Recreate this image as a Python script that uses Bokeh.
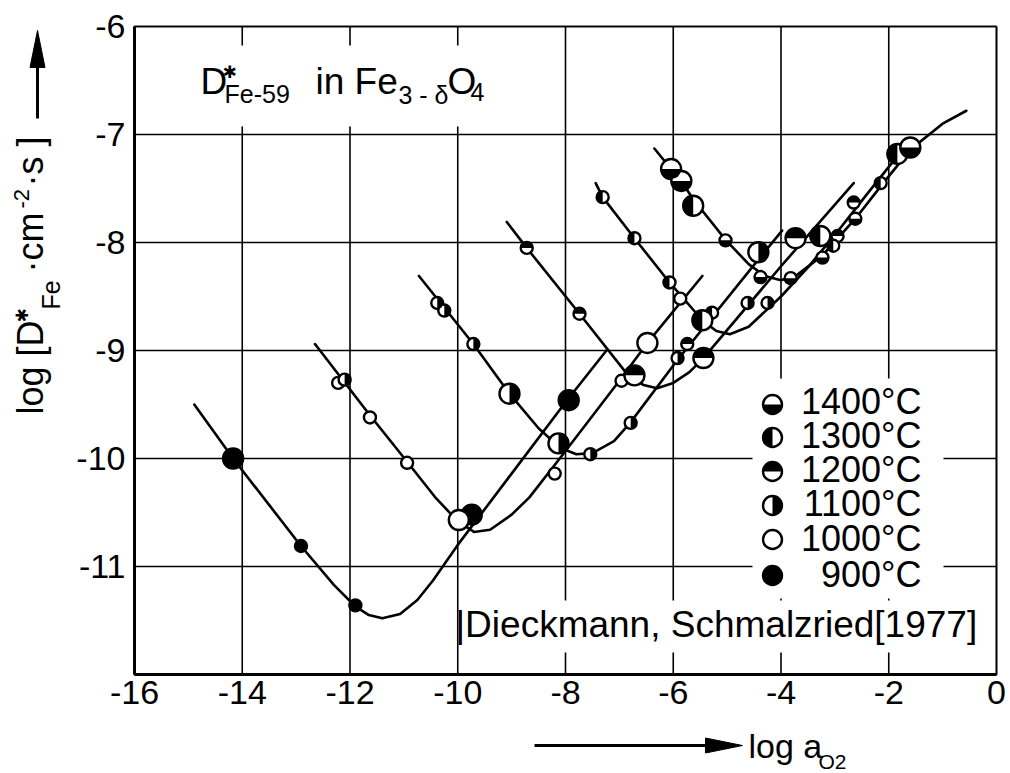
import math
from bokeh.plotting import figure
from bokeh.models import Range1d, FixedTicker, Label, BoxAnnotation
from bokeh.embed import file_html
from bokeh.resources import INLINE

# ---------------- data ----------------
x_ticks = [-16, -14, -12, -10, -8, -6, -4, -2, 0]
y_ticks = [-12, -11, -10, -9, -8, -7, -6]
x_tick_labels = ["-16", "-14", "-12", "-10", "-8", "-6", "-4", "-2", "0"]
y_tick_labels = ["", "-11", "-10", "-9", "-8", "-7", "-6"]

temperatures = ["1400°C", "1300°C", "1200°C", "1100°C", "1000°C", "900°C"]

# drawn curves
c900_x = [-14.89, -14.17, -12.91, -12.3, -11.9, -11.65, -11.4, -11.07, -10.75, -10.46, -10.0, -9.0, -8.0, -7.24]
c900_y = [-9.5, -10.0, -10.81, -11.17, -11.37, -11.45, -11.48, -11.44, -11.31, -11.13, -10.8, -10.14, -9.48, -9.0]
c1000_x = [-12.65, -11.63, -10.94, -10.4, -10.0, -9.7, -9.4, -9.0, -8.67, -8.06, -7.0, -6.48, -5.46]
c1000_y = [-8.94, -9.6, -10.03, -10.37, -10.58, -10.68, -10.66, -10.52, -10.36, -9.97, -9.28, -8.93, -8.31]
c1100_x = [-10.72, -9.71, -9.04, -8.5, -8.1, -7.8, -7.5, -7.1, -6.8, -5.94, -4.44, -3.98]
c1100_y = [-8.31, -8.94, -9.40, -9.72, -9.9, -9.96, -9.95, -9.84, -9.67, -9.1, -8.17, -7.89]
c1200_x = [-9.09, -8.72, -7.74, -6.87, -6.55, -6.3, -6.0, -5.7, -5.44, -4.0, -2.65]
c1200_y = [-7.81, -8.05, -8.66, -9.21, -9.32, -9.35, -9.3, -9.2, -9.07, -8.22, -7.45]
c1300_x = [-7.44, -7.31, -6.72, -6.07, -5.46, -5.2, -4.95, -4.6, -4.0, -3.5, -3.0, -2.4, -1.84]
c1300_y = [-7.45, -7.58, -7.96, -8.37, -8.72, -8.82, -8.85, -8.78, -8.5, -8.23, -7.93, -7.55, -7.2]
c1400_x = [-6.35, -6.04, -5.85, -5.63, -5.02, -4.6, -4.3, -4.0, -3.7, -3.23, -2.62, -2.15, -1.6, -1.0, -0.56]
c1400_y = [-7.13, -7.32, -7.43, -7.6, -7.98, -8.2, -8.31, -8.35, -8.3, -8.12, -7.78, -7.48, -7.14, -6.9, -6.78]

# measured points, small and large symbols
p900_x = [-12.91, -11.9]
p900_y = [-10.81, -11.36]
p900_big_x = [-14.17, -9.74, -7.94]
p900_big_y = [-10.0, -10.52, -9.46]
p1000_x = [-12.22, -11.63, -10.94, -8.2, -6.96, -5.87]
p1000_y = [-9.3, -9.62, -10.04, -10.14, -9.28, -8.52]
p1000_big_x = [-9.98, -6.48]
p1000_big_y = [-10.57, -8.93]
p1100_x = [-12.1, -10.38, -10.25, -9.71, -7.54, -6.79, -5.92, -4.62, -4.25]
p1100_y = [-9.27, -8.56, -8.63, -8.94, -9.96, -9.67, -9.07, -8.56, -8.56]
p1100_big_x = [-9.04, -8.13, -4.42]
p1100_big_y = [-9.40, -9.86, -8.09]
p1200_x = [-8.72, -7.74, -5.74, -2.95, -2.65]
p1200_y = [-8.05, -8.66, -8.94, -7.94, -7.63]
p1200_big_x = [-6.72, -5.44, -3.73]
p1200_big_y = [-9.23, -9.07, -7.96]
p1300_x = [-7.31, -6.72, -6.07, -5.28, -3.03, -2.15]
p1300_y = [-7.58, -7.96, -8.37, -8.65, -8.03, -7.45]
p1300_big_x = [-5.46, -5.63, -3.27, -1.84]
p1300_big_y = [-8.72, -7.66, -7.94, -7.18]
p1400_x = [-5.03, -4.38, -3.82, -3.23, -2.62]
p1400_y = [-7.98, -8.32, -8.33, -8.14, -7.78]
p1400_big_x = [-6.04, -5.85, -1.6]
p1400_big_y = [-7.32, -7.43, -7.12]

# ---------------- layout helpers (canvas pixels -> data) ----------------
W, H = 1010, 773
L, R, T, B = 134, 996, 26, 674          # plot box in canvas pixels
X0, X1, Y0, Y1 = -16.0, 0.0, -12.0, -6.0


def dx(px):
    return X0 + (px - L) * (X1 - X0) / (R - L)


def dy(py):
    return Y1 - (py - T) * (Y1 - Y0) / (B - T)


FONT = "Liberation Sans"
BASE_SHIFT = 0.34   # renderer places 'alphabetic' text this fraction of the size lower

# the frame covers the whole canvas; axes are pinned to the plot box edges
p = figure(width=W, height=H, x_range=Range1d(dx(0), dx(W)), y_range=Range1d(dy(H), dy(0)),
           output_backend="svg", toolbar_location=None,
           min_border_left=0, min_border_right=0, min_border_top=0, min_border_bottom=0)
p.outline_line_color = None
p.background_fill_color = "white"
p.border_fill_color = "white"
p.grid.visible = False

p.xaxis.fixed_location = Y0
p.yaxis.fixed_location = X0
p.xaxis.bounds = (X0, X1)
p.yaxis.bounds = (Y0, Y1)
p.xaxis.ticker = FixedTicker(ticks=x_ticks)
p.yaxis.ticker = FixedTicker(ticks=y_ticks)
p.xaxis.major_label_overrides = dict(zip(x_ticks, x_tick_labels))
p.yaxis.major_label_overrides = dict(zip(y_ticks, y_tick_labels))
for ax in (p.xaxis[0], p.yaxis[0]):
    ax.axis_line_color = "black"
    ax.axis_line_width = 3
    ax.major_tick_line_color = None
    ax.major_tick_out = 0
    ax.major_tick_in = 0
    ax.minor_tick_line_color = None
    ax.major_label_text_font = FONT
    ax.major_label_text_font_size = "34px"
    ax.major_label_text_color = "black"
p.xaxis.major_label_standoff = 6
p.yaxis.major_label_standoff = 9

# grid lines inside the plot box only, at the tick values
p.segment(x0=x_ticks, y0=[Y0] * len(x_ticks), x1=x_ticks, y1=[Y1] * len(x_ticks),
          line_color="black", line_width=1.6)
p.segment(x0=[X0] * len(y_ticks), y0=y_ticks, x1=[X1] * len(y_ticks), y1=y_ticks,
          line_color="black", line_width=1.6)

# white areas behind the texts inside the box (grid lines are interrupted there)
p.quad(left=[dx(L + 2), dx(752), dx(462)], right=[dx(530), dx(943), dx(985)],
       top=[dy(45), dy(378), dy(600)], bottom=[dy(126), dy(598), dy(652)],
       fill_color="white", line_color=None)

# plot box
p.add_layout(BoxAnnotation(left=X0, right=X1, bottom=Y0, top=Y1, fill_alpha=0,
                           line_color="black", line_width=3))

# curves
LW = 2.6
for cx, cy in [(c900_x, c900_y), (c1000_x, c1000_y), (c1100_x, c1100_y),
               (c1200_x, c1200_y), (c1300_x, c1300_y), (c1400_x, c1400_y)]:
    p.line(cx, cy, line_color="black", line_width=LW, line_join="round", line_cap="round")

# symbol styles: black half (start, end angle)
HALF = {
    "1400": (math.pi, 2 * math.pi),          # bottom black
    "1300": (math.pi / 2, 3 * math.pi / 2),  # left black
    "1200": (0.0, math.pi),                  # top black
    "1100": (-math.pi / 2, math.pi / 2),     # right black
}


def markers(xs, ys, kind, r):
    if not xs:
        return
    fill = "black" if kind == "900" else "white"
    p.circle(xs, ys, radius=r, radius_units="screen", fill_color=fill,
             line_color="black", line_width=2.4)
    if kind in HALF:
        a0, a1 = HALF[kind]
        p.wedge(xs, ys, radius=r, radius_units="screen", start_angle=a0, end_angle=a1,
                fill_color="black", line_color=None)


RS, RB = 6, 10
series = [("900", p900_x, p900_y, p900_big_x, p900_big_y),
          ("1000", p1000_x, p1000_y, p1000_big_x, p1000_big_y),
          ("1100", p1100_x, p1100_y, p1100_big_x, p1100_big_y),
          ("1200", p1200_x, p1200_y, p1200_big_x, p1200_big_y),
          ("1300", p1300_x, p1300_y, p1300_big_x, p1300_big_y),
          ("1400", p1400_x, p1400_y, p1400_big_x, p1400_big_y)]
for kind, sx, sy, bx, by in series:
    markers(sx, sy, kind, RS)
    markers(bx, by, kind, RB)

# legend (drawn by hand)
leg_icon_py = [404, 437, 471, 505, 539, 575]
leg_text_py = [413, 447, 481, 515, 550, 586]
leg_kinds = ["1400", "1300", "1200", "1100", "1000", "900"]
for kind, ipy in zip(leg_kinds, leg_icon_py):
    markers([dx(772)], [dy(ipy)], kind, 9.5)


def lab(px, py, text, size, font=FONT, angle=0.0, align="left"):
    # (px, py): canvas position of the text's baseline start
    if angle == 0.0:
        py = py - BASE_SHIFT * size
    else:
        px = px - BASE_SHIFT * size
    p.add_layout(Label(x=dx(px), y=dy(py), text=text, text_align=align,
                       text_baseline="alphabetic", text_font=font,
                       text_font_size=f"{size}px", text_color="black", angle=angle))


def arrow(px0, py0, px1, py1, head_len=37, head_w=15):
    ux, uy = px1 - px0, py1 - py0
    n = math.hypot(ux, uy)
    ux, uy = ux / n, uy / n
    bx, by = px1 - ux * head_len, py1 - uy * head_len
    p.line([dx(px0), dx(bx)], [dy(py0), dy(by)], line_color="black", line_width=3)
    p.patch([dx(px1), dx(bx - uy * head_w / 2), dx(bx + uy * head_w / 2)],
            [dy(py1), dy(by + ux * head_w / 2), dy(by - ux * head_w / 2)],
            fill_color="black", line_color="black", line_width=1)


for txt, tpy in zip(temperatures, leg_text_py):
    lab(921, tpy, txt, 36, align="right")

lab(455, 637, "|Dieckmann, Schmalzried[1977]", 37)

# title inside the plot:  D*_{Fe-59} in Fe_{3-δ}O_4
lab(200, 94, "D", 37)
lab(222, 77, "✱", 17, font="DejaVu Sans")
lab(224, 102, "Fe-59", 25)
lab(315, 94, "in Fe", 37)
lab(398, 103, "3 - δ", 25)
lab(447, 94, "O", 37)
lab(470, 100, "4", 25)

# y axis label (rotated):  log [D*_Fe · cm^-2 · s]  --->
A = math.pi / 2
lab(42, 414, "log [D", 36, angle=A)
lab(27, 322, "✱", 17, font="DejaVu Sans", angle=A)
lab(59, 309, "Fe", 25, angle=A)
lab(42, 272, "·cm", 36, angle=A)
lab(28, 208, "-2", 22, angle=A)
lab(42, 186, "·s ]", 36, angle=A)
arrow(37, 118, 37, 30)

# x axis label:  ----->  log a_O2
arrow(534, 745, 742, 745)
lab(748, 757, "log a", 34)
lab(818, 768, "O2", 21)

open("out.html", "w").write(file_html(p, INLINE))
